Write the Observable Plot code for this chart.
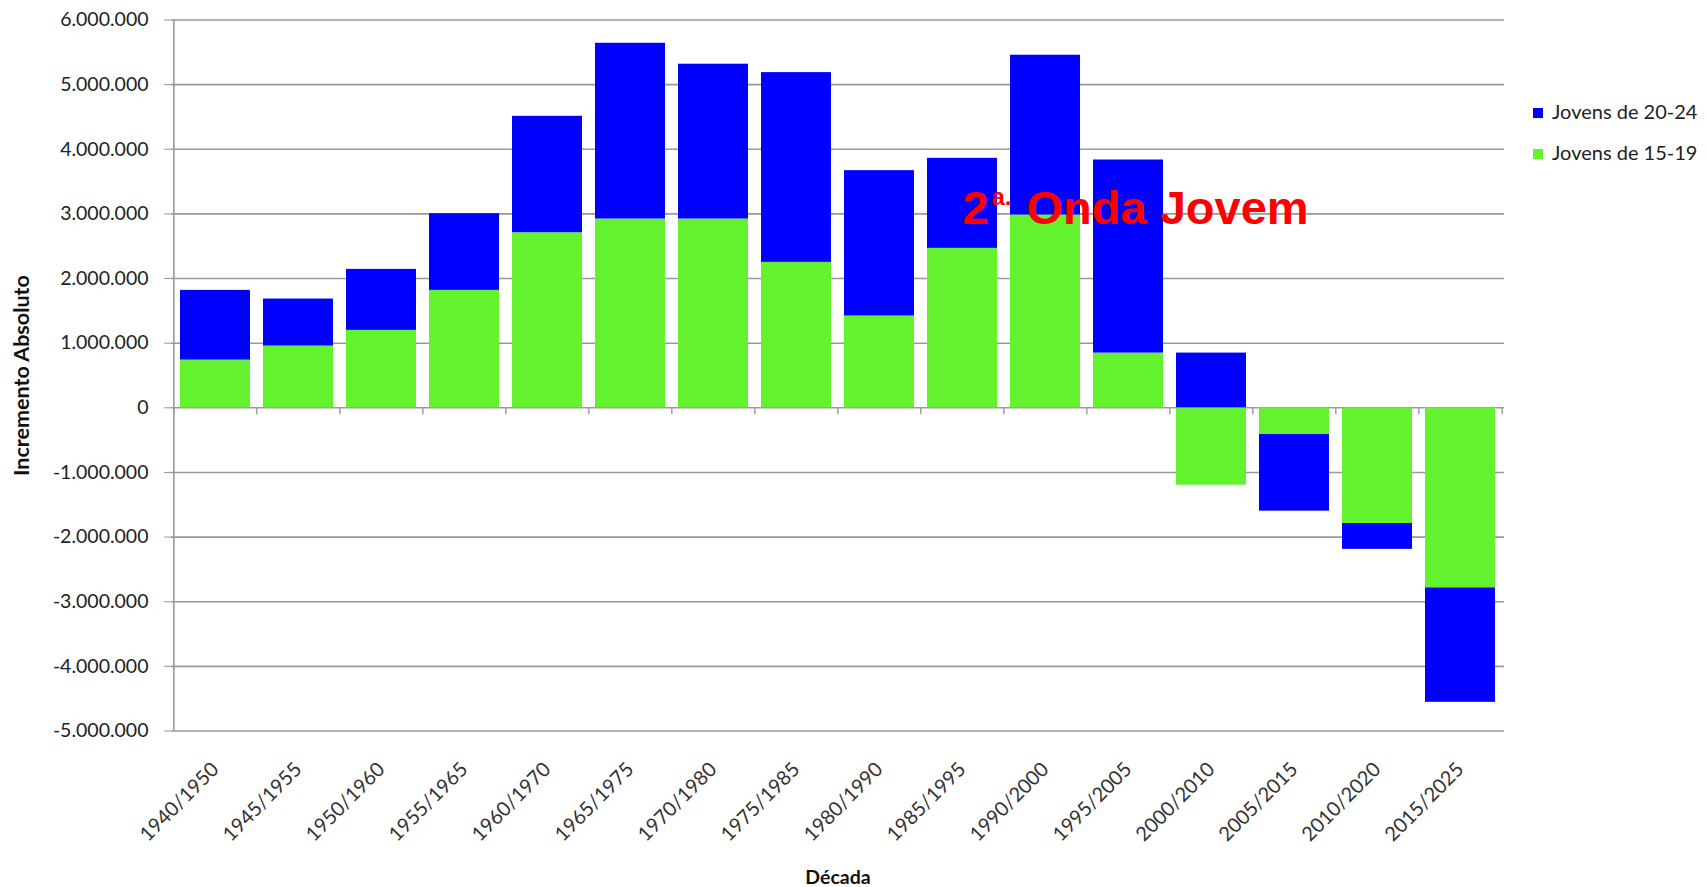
<!DOCTYPE html>
<html><head><meta charset="utf-8">
<script src="https://cdn.jsdelivr.net/npm/d3@7"></script>
<script src="https://cdn.jsdelivr.net/npm/@observablehq/plot@0.6"></script>
<style>
body{margin:0;background:#fff;}
#wrap{position:relative;width:1707px;height:887px;overflow:hidden;}
.leg{position:absolute;left:1533px;font-family:Lato,sans-serif;font-size:20px;color:#222;white-space:nowrap;line-height:22px;}
.leg span.sw{display:inline-block;width:10px;height:10px;margin-right:9px;vertical-align:1px;}
</style></head><body><div id="wrap"></div>
<script>
const decadas = ["1940/1950","1945/1955","1950/1960","1955/1965","1960/1970","1965/1975","1970/1980","1975/1985","1980/1990","1985/1995","1990/2000","1995/2005","2000/2010","2005/2015","2010/2020","2015/2025"];
const jovens1519 = [738000, 955000, 1198000, 1817000, 2709000, 2921000, 2921000, 2250000, 1420000, 2467000, 2983000, 847000, -1197000, -413000, -1790000, -2786000];
const jovens2024 = [1079000, 728000, 944000, 1186000, 1801000, 2719000, 2395000, 2936000, 2249000, 1393000, 2472000, 2987000, 847000, -1186000, -400000, -1770000];
const series = ["Jovens de 15-19", "Jovens de 20-24"];
const colors = ["#63F22D", "#0000FF"];
const yTicks = d3.range(-5000000, 6000001, 1000000);
const anotacao = {decada: "1985/1995", valor: 2842000, num: "2", sup: "a.", resto: "Onda Jovem"};

const data = [];
decadas.forEach((d, i) => {
  data.push({decada: d, serie: series[0], valor: jovens1519[i]});
  data.push({decada: d, serie: series[1], valor: jovens2024[i]});
});

const fmt = d3.formatLocale({decimal: ",", thousands: ".", grouping: [3], currency: ["", ""], minus: "-"}).format(",");

const W = 1707, H = 887, mL = 171, mR = 203, mT = 19.5, mB = 156.5;
const step = (W - mL - mR) / decadas.length;
const tickLen = 7 * (11000000 / (H - mT - mB));

const chart = Plot.plot({
  width: W, height: H,
  marginLeft: mL, marginRight: mR, marginTop: mT, marginBottom: mB,
  style: {fontFamily: "Lato, sans-serif", background: "white", color: "#222"},
  x: {domain: decadas, paddingInner: 0.16, paddingOuter: 0.08, label: null},
  y: {domain: [-5000000, 6000000], label: null},
  color: {domain: series, range: colors},
  marks: [
    Plot.gridY(yTicks, {stroke: "#999", strokeOpacity: 1, strokeWidth: 1.6}),
    Plot.ruleX([decadas[0]], {y1: -5000000, y2: 6000000, dx: -step / 2, stroke: "#999", strokeWidth: 1.6}),
    Plot.ruleX(decadas, {y1: 0, y2: -tickLen, dx: -step / 2, stroke: "#999", strokeWidth: 1.4}),
    Plot.ruleX([decadas[decadas.length - 1]], {y1: 0, y2: -tickLen, dx: step / 2, stroke: "#999", strokeWidth: 1.4}),
    Plot.barY(data, Plot.stackY({x: "decada", y: "valor", fill: "serie", order: series})),
    Plot.axisY(yTicks, {tickSize: 7, tickPadding: 16, stroke: "#999", tickFormat: fmt, fontSize: 19.5, fill: "#222"}),
    Plot.axisY({label: "Incremento Absoluto", labelAnchor: "center", labelOffset: 158, labelArrow: "none", ticks: [], tickSize: 0, fontWeight: "bold", fontSize: 21.5, fill: "#111"}),
    Plot.axisX({tickSize: 0, tickRotate: -45, tickPadding: 35, fontSize: 20, fill: "#333"}),
    Plot.axisX({label: "Década", labelAnchor: "center", labelOffset: 153, ticks: [], tickSize: 0, fontWeight: "bold", fontSize: 19.5, fill: "#111"}),
    Plot.text([anotacao], {x: "decada", y: "valor", text: "num", textAnchor: "start", lineAnchor: "bottom", fontSize: 47, fontWeight: "bold", fontFamily: "Liberation Sans, Arial, sans-serif", fill: "#FF0000"}),
    Plot.text([anotacao], {x: "decada", y: "valor", text: "sup", textAnchor: "start", lineAnchor: "bottom", dx: 29, dy: -19, fontSize: 24, fontWeight: "bold", fontFamily: "Liberation Sans, Arial, sans-serif", fill: "#FF0000"}),
    Plot.text([anotacao], {x: "decada", y: "valor", text: "resto", textAnchor: "start", lineAnchor: "bottom", dx: 64, fontSize: 47, fontWeight: "bold", fontFamily: "Liberation Sans, Arial, sans-serif", fill: "#FF0000"})
  ]
});

const wrap = document.getElementById("wrap");
wrap.appendChild(chart);

// legend (top to bottom: 20-24, 15-19 as in the reference)
[[series[1], colors[1], 100], [series[0], colors[0], 141]].forEach(([name, col, top]) => {
  const div = document.createElement("div");
  div.className = "leg";
  div.style.top = top + "px";
  div.innerHTML = `<span class="sw" style="background:${col}"></span>${name}`;
  wrap.appendChild(div);
});
</script>
</body></html>
